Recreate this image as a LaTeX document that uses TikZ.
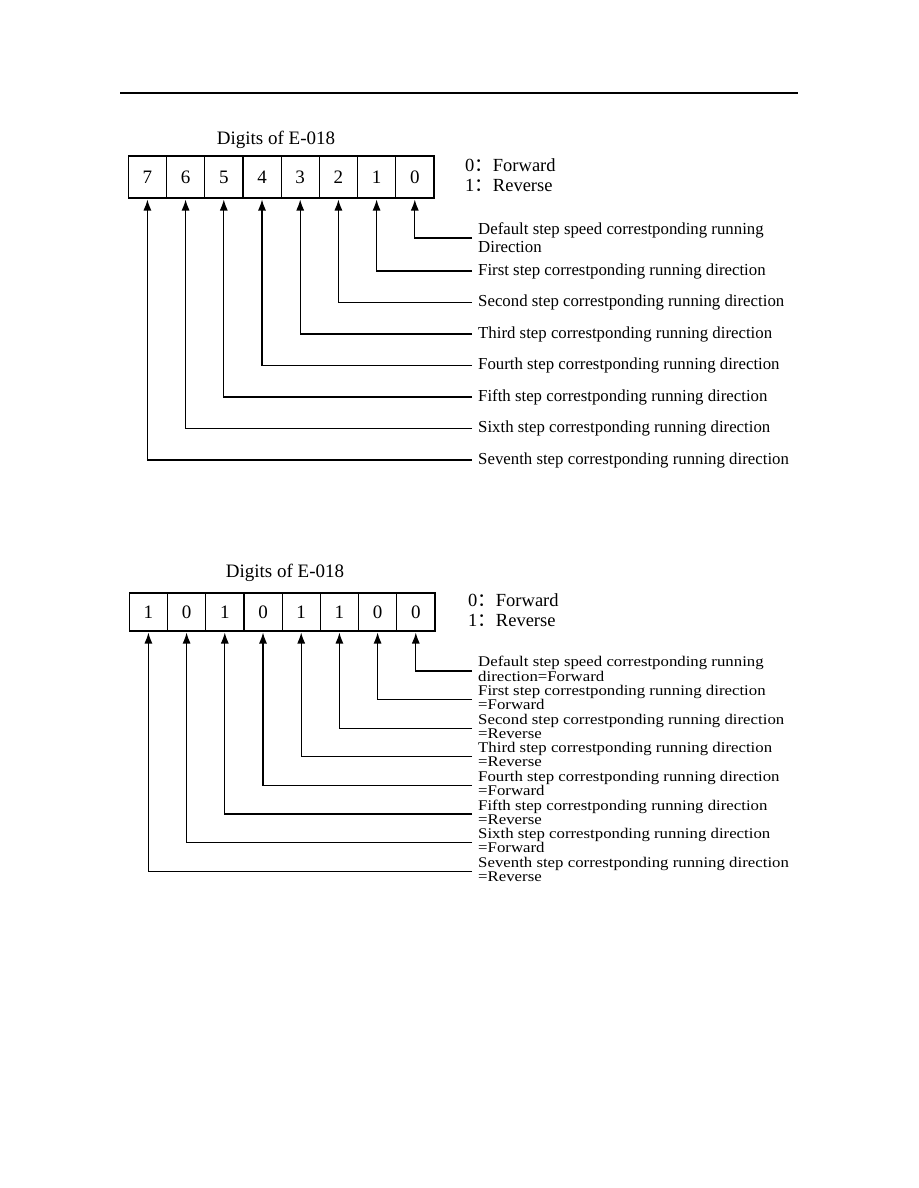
\documentclass[tikz,border=0pt]{standalone}
\usepackage{graphicx}
\usepackage{fontspec}
\setmainfont{Liberation Serif}
\newfontfamily\cjk{Noto Sans CJK SC}
\usetikzlibrary{arrows.meta, positioning}
%two squeezed lines of a label
\newcommand\twoline[2]{\scalebox{1}[0.88]{\begin{tabular}{@{}l@{}}#1\\#2\end{tabular}}}

\begin{document}
\begin{tikzpicture}[x=1pt, y=-1pt, node distance=0pt,
		>={Latex[length=11pt,width=8pt]},   %arrow tips
		digit/.style={draw, line width=1.2pt, minimum width=38.2pt, minimum height=#1, inner sep=0pt, outer sep=0pt, font=\fontsize{19}{19}\selectfont},
		title/.style={font=\fontsize{19}{19}\selectfont},
		legend/.style={anchor=west, align=left, inner sep=0pt, font=\fontsize{18.5}{20}\selectfont},
		lab/.style={anchor=west, align=left, inner xsep=6pt, inner ysep=0pt, font=\fontsize{16.8}{#1}\selectfont},
		conn/.style={->, line width=1.2pt, shorten >=1.5pt}]
		%page
		\useasboundingbox (0,0) rectangle (918,1188);
		\coordinate (rl) at (120,93);
		\coordinate (rr) at (798,93);
		\draw[line width=2pt] (rl) -- (rr);
		%first register: bit positions
		\node[title] (t1) at (276,140) {Digits of E-018};
		\node[digit=42pt] (a7) at (147.4,177) {7};
		\foreach \i [evaluate=\i as \j using int(\i+1)] in {6,...,0}
			\node[digit=42pt, right=of a\j] (a\i) {\i};
		\node[legend] (g1) at (465,175) {0{\cjk ：}Forward\\1{\cjk ：}Reverse};
		%first register: labels
		\node[lab=18] (l0) at (472,238) {Default step speed correstponding running\\Direction};
		\draw[conn] (l0.west) -| (a0.south);
		\foreach \i/\ord in {1/First,2/Second,3/Third,4/Fourth,5/Fifth,6/Sixth,7/Seventh} {
			\pgfmathsetmacro\yy{271+31.5*(\i-1)}
			\node[lab=18] (l\i) at (472,\yy) {\ord\ step correstponding running direction};
			\draw[conn] (l\i.west) -| (a\i.south);
		}
		%second register: example values
		\node[title] (t2) at (285,573) {Digits of E-018};
		\node[digit=38pt] (b7) at (148.4,612) {1};
		\foreach \i/\v [evaluate=\i as \j using int(\i+1)] in {6/0,5/1,4/0,3/1,2/1,1/0,0/0}
			\node[digit=38pt, right=of b\j] (b\i) {\v};
		\node[legend] (g2) at (468,610) {0{\cjk ：}Forward\\1{\cjk ：}Reverse};
		%second register: labels
		\node[lab=16] (m0) at (472,671) {\twoline{Default step speed correstponding running}{direction=Forward}};
		\draw[conn] (m0.west) -| (b0.south);
		\foreach \i/\ord/\dir in {1/First/Forward,2/Second/Reverse,3/Third/Reverse,4/Fourth/Forward,5/Fifth/Reverse,6/Sixth/Forward,7/Seventh/Reverse} {
			\pgfmathsetmacro\yy{671+28.6*\i}
			\node[lab=16] (m\i) at (472,\yy) {\twoline{\ord\ step correstponding running direction}{=\dir}};
			\draw[conn] (m\i.west) -| (b\i.south);
		}
	\end{tikzpicture}
\end{document}
